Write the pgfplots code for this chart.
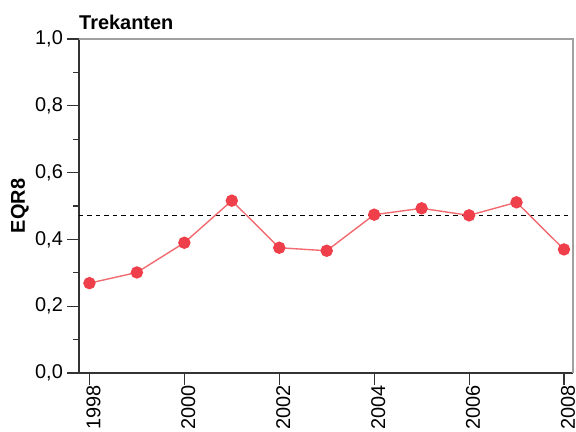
\documentclass[border=0pt]{standalone}
\usepackage{fontspec}
\setmainfont{Liberation Sans}
\usepackage{pgfplots}
\pgfplotsset{compat=1.18}
\definecolor{ptred}{HTML}{EE3F4A}
\definecolor{lnred}{HTML}{F26A6F}
\definecolor{axdark}{HTML}{333333}
\definecolor{axlight}{HTML}{A0A0A0}

\begin{document}
\begin{tikzpicture}
\path[use as bounding box] (-79bp,-59bp) rectangle (497bp,373bp);
\begin{axis}[
    scale only axis,
    width=494bp, height=334bp,
    at={(0,0)}, anchor=south west,
    xmin=1997.78, xmax=2008.19,
    ymin=0, ymax=1,
    axis lines*=left,
    axis line style={axdark, line width=1.1pt},
    tick align=outside,
    major tick length=12bp,
    minor tick length=6bp,
    tick style={axdark, line width=1.1pt},
    xtick={1998,2000,...,2008},
    minor x tick num=1,
    ytick={0,0.2,...,1.0},
    minor y tick num=1,
    ticklabel style={font=\fontsize{20}{24}\selectfont, text=black},
    /pgf/number format/assume math mode=true,
    xticklabel style={rotate=90, anchor=east, inner sep=0pt, yshift=-4bp,
        /pgf/number format/1000 sep={}},
    yticklabel style={inner sep=0pt, xshift=-4bp,
        /pgf/number format/.cd, fixed, fixed zerofill, precision=1, use comma},
    clip=false,
]
% reference level
\addplot[black, line width=1.6pt, dash pattern=on 4.5bp off 4bp] coordinates {
    (1997.78,0.471) (2008.19,0.471)
};
% EQR8 per year
\addplot[lnred, line width=1.4pt, mark=*, mark size=5.5bp,
    mark options={fill=ptred, draw=ptred, solid}] coordinates {
    (1998,0.269) (1999,0.301) (2000,0.390) (2001,0.516) (2002,0.375)
    (2003,0.366) (2004,0.474) (2005,0.493) (2006,0.472) (2007,0.511)
    (2008,0.370)
};
\draw[axlight, line width=1.1pt] (rel axis cs:0,1) -- (rel axis cs:1,1) -- (rel axis cs:1,0);
\node[anchor=base west, inner sep=0pt, font=\fontsize{20}{24}\selectfont\bfseries]
    at ([yshift=9bp]rel axis cs:0,1) {Trekanten};
\node[rotate=90, inner sep=0pt, font=\fontsize{20}{24}\selectfont\bfseries]
    at ([xshift=-59bp]rel axis cs:0,0.5) {EQR8};
\end{axis}
\end{tikzpicture}
\end{document}
